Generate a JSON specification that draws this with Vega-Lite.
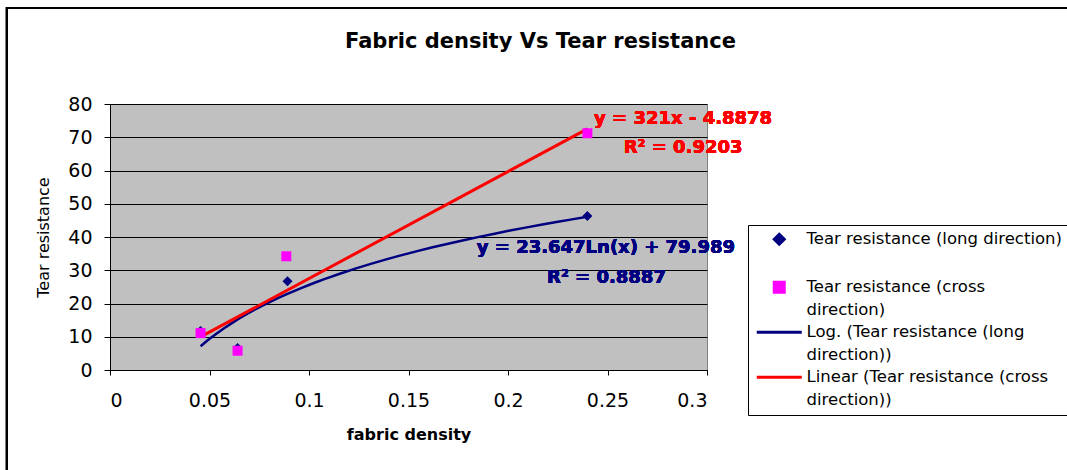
{
  "$schema": "https://vega.github.io/schema/vega-lite/v6.json",
  "width": 597,
  "height": 266,
  "autosize": {"type": "none"},
  "padding": {"left": 110, "top": 104, "right": 360, "bottom": 100},
  "background": "white",
  "title": {
    "text": "Fabric density Vs Tear resistance",
    "font": "DejaVu Sans",
    "fontSize": 21,
    "fontWeight": "bold",
    "color": "black",
    "anchor": "middle",
    "frame": "group",
    "dx": 132,
    "offset": -45
  },
  "data": {
    "values": [
      {"density": 0.0455, "resistance": 11.7, "series": "Tear resistance (long direction)", "trend": "Log. (Tear resistance (long direction))"},
      {"density": 0.0641, "resistance": 6.6, "series": "Tear resistance (long direction)", "trend": "Log. (Tear resistance (long direction))"},
      {"density": 0.0892, "resistance": 26.7, "series": "Tear resistance (long direction)", "trend": "Log. (Tear resistance (long direction))"},
      {"density": 0.2399, "resistance": 46.3, "series": "Tear resistance (long direction)", "trend": "Log. (Tear resistance (long direction))"},
      {"density": 0.0455, "resistance": 11.1, "series": "Tear resistance (cross direction)", "trend": "Linear (Tear resistance (cross direction))"},
      {"density": 0.0641, "resistance": 5.8, "series": "Tear resistance (cross direction)", "trend": "Linear (Tear resistance (cross direction))"},
      {"density": 0.0886, "resistance": 34.2, "series": "Tear resistance (cross direction)", "trend": "Linear (Tear resistance (cross direction))"},
      {"density": 0.2399, "resistance": 71.2, "series": "Tear resistance (cross direction)", "trend": "Linear (Tear resistance (cross direction))"}
    ]
  },
  "config": {
    "view": {"fill": "#C0C0C0", "stroke": "#808080", "strokeWidth": 1},
    "axis": {
      "labelFont": "DejaVu Sans",
      "labelColor": "black",
      "titleFont": "DejaVu Sans",
      "titleColor": "black",
      "domainColor": "black",
      "tickColor": "black"
    }
  },
  "encoding": {
    "x": {
      "field": "density",
      "type": "quantitative",
      "scale": {"domain": [0, 0.3], "nice": false, "zero": true},
      "axis": {
        "values": [0, 0.05, 0.1, 0.15, 0.2, 0.25, 0.3],
        "format": "~g",
        "grid": false,
        "tickSize": 5,
        "labelFontSize": 19,
        "labelPadding": 16,
        "title": "fabric density",
        "titleFontSize": 16,
        "titleFontWeight": "bold",
        "titlePadding": 16
      }
    },
    "y": {
      "field": "resistance",
      "type": "quantitative",
      "scale": {"domain": [0, 80], "nice": false},
      "axis": {
        "values": [0, 10, 20, 30, 40, 50, 60, 70, 80],
        "grid": true,
        "gridColor": "black",
        "gridWidth": 1,
        "gridOpacity": 1,
        "tickSize": 6,
        "labelFontSize": 19,
        "labelPadding": 12,
        "title": "Tear resistance",
        "titleFontSize": 16,
        "titleFontWeight": "normal",
        "titlePadding": 16
      }
    }
  },
  "layer": [
    {
      "transform": [
        {"filter": "datum.series === 'Tear resistance (long direction)'"},
        {"regression": "resistance", "on": "density", "method": "log", "groupby": ["trend"]}
      ],
      "mark": {"type": "line", "strokeWidth": 2.5},
      "encoding": {
        "color": {
          "field": "trend",
          "type": "nominal",
          "scale": {
            "domain": ["Tear resistance (long direction)", "Tear resistance (cross direction)", "Log. (Tear resistance (long direction))", "Linear (Tear resistance (cross direction))"],
            "range": ["#000080", "#FF00FF", "#000080", "#FF0000"]
          },
          "legend": {
            "title": null,
            "orient": "none",
            "legendX": 638,
            "legendY": 121,
            "fillColor": "white",
            "strokeColor": "black",
            "padding": 6,
            "labelFont": "DejaVu Sans",
            "labelFontSize": 16.5,
            "labelColor": "black",
            "labelLimit": 500,
            "labelOffset": 19,
            "symbolOffset": 17,
            "rowPadding": 5,
            "symbolStrokeWidth": 3,
            "labelExpr": "datum.label === 'Tear resistance (long direction)' ? ['Tear resistance (long direction)', ''] : datum.label === 'Tear resistance (cross direction)' ? ['Tear resistance (cross', 'direction)'] : datum.label === 'Log. (Tear resistance (long direction))' ? ['Log. (Tear resistance (long', 'direction))'] : ['Linear (Tear resistance (cross', 'direction))']",
            "encode": {
              "labels": {"update": {"lineHeight": {"value": 23}}}
            }
          }
        }
      }
    },
    {
      "transform": [
        {"filter": "datum.series === 'Tear resistance (cross direction)'"},
        {"regression": "resistance", "on": "density", "method": "linear", "groupby": ["trend"]}
      ],
      "mark": {"type": "line", "strokeWidth": 3},
      "encoding": {
        "color": {"field": "trend", "type": "nominal"}
      }
    },
    {
      "mark": {"type": "point", "filled": true, "opacity": 1, "size": 100},
      "encoding": {
        "color": {"field": "series", "type": "nominal"},
        "shape": {
          "field": "series",
          "type": "nominal",
          "scale": {
            "domain": ["Tear resistance (long direction)", "Tear resistance (cross direction)", "Log. (Tear resistance (long direction))", "Linear (Tear resistance (cross direction))"],
            "range": ["diamond", "square", "M-4.5,0H4.5", "M-4.5,0H4.5"]
          },
          "legend": {"title": null}
        },
        "order": {"field": "series", "sort": "descending"}
      }
    },
    {
      "mark": {"type": "text", "font": "DejaVu Sans", "fontSize": 18, "fontWeight": "bold", "color": "#FF0000", "align": "center", "baseline": "middle"},
      "encoding": {"x": {"datum": 0.288}, "y": {"datum": 75.5}, "text": {"value": "y = 321x - 4.8878"}}
    },
    {
      "mark": {"type": "text", "font": "DejaVu Sans", "fontSize": 18, "fontWeight": "bold", "color": "#FF0000", "align": "center", "baseline": "middle"},
      "encoding": {"x": {"datum": 0.288}, "y": {"datum": 66.8}, "text": {"value": "R² = 0.9203"}}
    },
    {
      "mark": {"type": "text", "font": "DejaVu Sans", "fontSize": 18, "fontWeight": "bold", "color": "#000080", "align": "center", "baseline": "middle"},
      "encoding": {"x": {"datum": 0.2492}, "y": {"datum": 36.7}, "text": {"value": "y = 23.647Ln(x) + 79.989"}}
    },
    {
      "mark": {"type": "text", "font": "DejaVu Sans", "fontSize": 18, "fontWeight": "bold", "color": "#000080", "align": "center", "baseline": "middle"},
      "encoding": {"x": {"datum": 0.2495}, "y": {"datum": 27.7}, "text": {"value": "R² = 0.8887"}}
    },
    {
      "mark": {"type": "rect", "fillOpacity": 0, "stroke": "black", "strokeWidth": 2, "clip": false},
      "encoding": {"x": {"datum": -0.0518}, "x2": {"datum": 0.6}, "y": {"datum": 108.9}, "y2": {"datum": -40}}
    }
  ]
}
